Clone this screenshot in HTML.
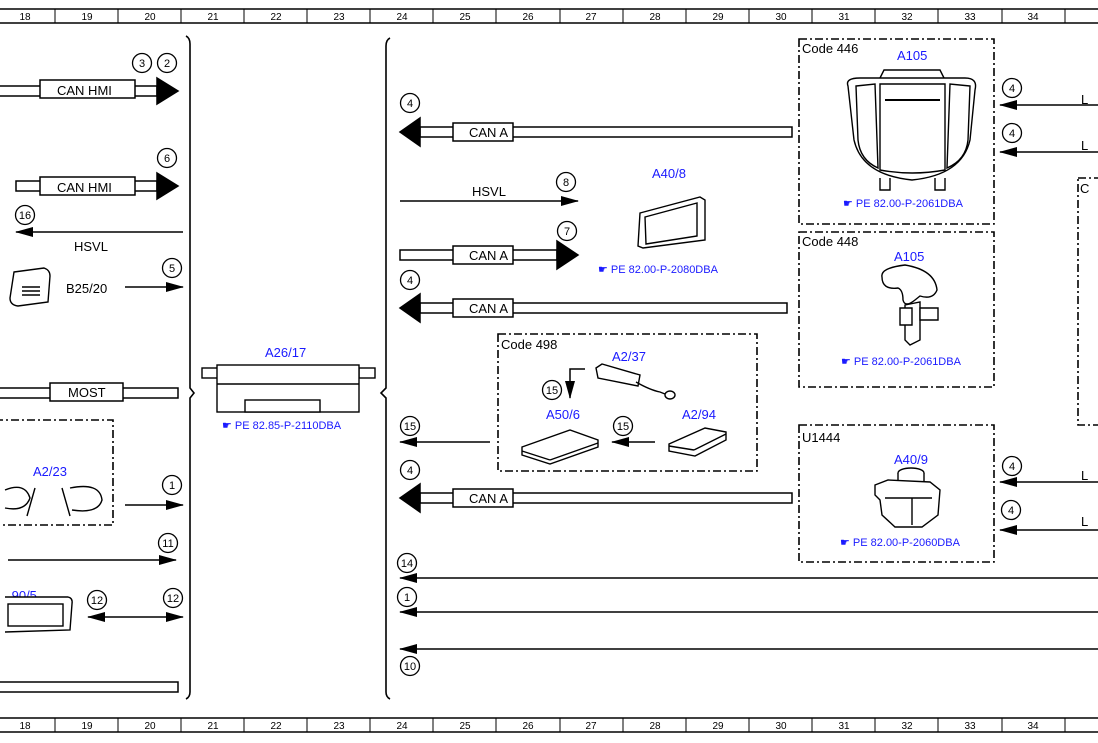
<!DOCTYPE html>
<html><head><meta charset="utf-8"><style>
html,body{margin:0;padding:0;background:#fff;}
svg{display:block;font-family:"Liberation Sans",Arial,sans-serif;}
.b{fill:#1a1aff;font-size:13px;}
.r{fill:#1a1aff;font-size:11px;}
.t{fill:#000;font-size:13px;}
.n{font-size:10px;text-anchor:middle;fill:#000;}
.c{font-size:11px;text-anchor:middle;fill:#000;}
.d{fill:none;stroke:#000;stroke-width:1.6;stroke-dasharray:8,3,2,3;}
</style></head><body>
<svg width="1098" height="743" viewBox="0 0 1098 743">
<defs>
<marker id="ah2" markerWidth="18" markerHeight="10" refX="17" refY="5" orient="auto" markerUnits="userSpaceOnUse"><path d="M0,0 L18,5 L0,10z" fill="#000"/></marker>
<marker id="ahs" markerWidth="18" markerHeight="10" refX="1" refY="5" orient="auto" markerUnits="userSpaceOnUse"><path d="M18,0 L0,5 L18,10z" fill="#000"/></marker>
</defs>
<!-- rulers -->
<g stroke="#000" fill="none">
<line x1="0" y1="9" x2="1098" y2="9" stroke-width="1.5"/><line x1="0" y1="23" x2="1098" y2="23" stroke-width="1.5"/>
<line x1="0" y1="718" x2="1098" y2="718" stroke-width="1.5"/><line x1="0" y1="732" x2="1098" y2="732" stroke-width="1.5"/>
</g>
<g stroke="#000" stroke-width="1">
<line x1="55" y1="9" x2="55" y2="23"/><line x1="118" y1="9" x2="118" y2="23"/><line x1="181" y1="9" x2="181" y2="23"/><line x1="244" y1="9" x2="244" y2="23"/><line x1="307" y1="9" x2="307" y2="23"/><line x1="370" y1="9" x2="370" y2="23"/><line x1="433" y1="9" x2="433" y2="23"/><line x1="496" y1="9" x2="496" y2="23"/><line x1="560" y1="9" x2="560" y2="23"/><line x1="623" y1="9" x2="623" y2="23"/><line x1="686" y1="9" x2="686" y2="23"/><line x1="749" y1="9" x2="749" y2="23"/><line x1="812" y1="9" x2="812" y2="23"/><line x1="875" y1="9" x2="875" y2="23"/><line x1="938" y1="9" x2="938" y2="23"/><line x1="1002" y1="9" x2="1002" y2="23"/><line x1="1065" y1="9" x2="1065" y2="23"/>
<line x1="55" y1="718" x2="55" y2="732"/><line x1="118" y1="718" x2="118" y2="732"/><line x1="181" y1="718" x2="181" y2="732"/><line x1="244" y1="718" x2="244" y2="732"/><line x1="307" y1="718" x2="307" y2="732"/><line x1="370" y1="718" x2="370" y2="732"/><line x1="433" y1="718" x2="433" y2="732"/><line x1="496" y1="718" x2="496" y2="732"/><line x1="560" y1="718" x2="560" y2="732"/><line x1="623" y1="718" x2="623" y2="732"/><line x1="686" y1="718" x2="686" y2="732"/><line x1="749" y1="718" x2="749" y2="732"/><line x1="812" y1="718" x2="812" y2="732"/><line x1="875" y1="718" x2="875" y2="732"/><line x1="938" y1="718" x2="938" y2="732"/><line x1="1002" y1="718" x2="1002" y2="732"/><line x1="1065" y1="718" x2="1065" y2="732"/>
</g>
<g class="n">
<text x="25" y="20">18</text><text x="87" y="20">19</text><text x="150" y="20">20</text><text x="213" y="20">21</text><text x="276" y="20">22</text><text x="339" y="20">23</text><text x="402" y="20">24</text><text x="465" y="20">25</text><text x="528" y="20">26</text><text x="591" y="20">27</text><text x="655" y="20">28</text><text x="718" y="20">29</text><text x="781" y="20">30</text><text x="844" y="20">31</text><text x="907" y="20">32</text><text x="970" y="20">33</text><text x="1033" y="20">34</text>
<text x="25" y="729">18</text><text x="87" y="729">19</text><text x="150" y="729">20</text><text x="213" y="729">21</text><text x="276" y="729">22</text><text x="339" y="729">23</text><text x="402" y="729">24</text><text x="465" y="729">25</text><text x="528" y="729">26</text><text x="591" y="729">27</text><text x="655" y="729">28</text><text x="718" y="729">29</text><text x="781" y="729">30</text><text x="844" y="729">31</text><text x="907" y="729">32</text><text x="970" y="729">33</text><text x="1033" y="729">34</text>
</g>
<!-- brackets -->
<g fill="none" stroke="#000" stroke-width="1.6">
<path d="M186,36 Q190,38 190,44 L190,388 L194,393 L190,398 L190,692 Q190,697 186,699"/>
<path d="M390,38 Q386,40 386,46 L386,388 L381,393 L386,398 L386,692 Q386,697 390,699"/>
</g>
<g stroke="#000" stroke-width="1.5" fill="#fff">
<rect x="-5" y="86" width="162" height="10"/><path d="M157,78 L178,91 L157,104z" fill="#000"/>
<rect x="40" y="80" width="95" height="18"/>
<rect x="16" y="181" width="141" height="10"/><path d="M157,173 L178,186 L157,199z" fill="#000"/>
<rect x="40" y="177" width="95" height="18"/>
<rect x="-5" y="388" width="183" height="10"/><rect x="50" y="383" width="73" height="18"/>
<rect x="-5" y="682" width="183" height="10"/>
<rect x="420" y="127" width="372" height="10"/><path d="M420,118 L400,132 L420,146z" fill="#000"/><rect x="453" y="123" width="60" height="18"/>
<rect x="400" y="250" width="157" height="10"/><path d="M557,241 L578,255 L557,269z" fill="#000"/><rect x="453" y="246" width="60" height="18"/>
<rect x="420" y="303" width="367" height="10"/><path d="M420,294 L400,308 L420,322z" fill="#000"/><rect x="453" y="299" width="60" height="18"/>
<rect x="420" y="493" width="372" height="10"/><path d="M420,484 L400,498 L420,512z" fill="#000"/><rect x="453" y="489" width="60" height="18"/>
</g>
<g class="t">
<text x="57" y="95">CAN HMI</text><text x="57" y="192">CAN HMI</text><text x="68" y="397">MOST</text>
<text x="469" y="137">CAN A</text><text x="469" y="260">CAN A</text><text x="469" y="313">CAN A</text><text x="469" y="503">CAN A</text>
<text x="74" y="251">HSVL</text><text x="472" y="196">HSVL</text><text x="66" y="293">B25/20</text>
<text x="802" y="53">Code 446</text><text x="802" y="246">Code 448</text><text x="501" y="349">Code 498</text><text x="802" y="442">U1444</text>
<text x="1081" y="104">L</text><text x="1081" y="150">L</text><text x="1081" y="480">L</text><text x="1081" y="526">L</text><text x="1080" y="193">C</text>
</g>
<g stroke="#000" stroke-width="1.5" fill="none">
<line x1="183" y1="232" x2="16" y2="232" marker-end="url(#ah2)"/>
<line x1="125" y1="287" x2="183" y2="287" marker-end="url(#ah2)"/>
<line x1="125" y1="505" x2="183" y2="505" marker-end="url(#ah2)"/>
<line x1="8" y1="560" x2="176" y2="560" marker-end="url(#ah2)"/>
<line x1="88" y1="617" x2="183" y2="617" marker-end="url(#ah2)" marker-start="url(#ahs)"/>
<line x1="400" y1="201" x2="578" y2="201" marker-end="url(#ah2)"/>
<line x1="490" y1="442" x2="400" y2="442" marker-end="url(#ah2)"/>
<line x1="655" y1="442" x2="612" y2="442" marker-end="url(#ah2)"/>
<path d="M585,369 L570,369 L570,398" marker-end="url(#ah2)"/>
<line x1="1098" y1="578" x2="400" y2="578" marker-end="url(#ah2)"/>
<line x1="1098" y1="612" x2="400" y2="612" marker-end="url(#ah2)"/>
<line x1="1098" y1="649" x2="400" y2="649" marker-end="url(#ah2)"/>
<line x1="1098" y1="105" x2="1000" y2="105" marker-end="url(#ah2)"/>
<line x1="1098" y1="152" x2="1000" y2="152" marker-end="url(#ah2)"/>
<line x1="1098" y1="482" x2="1000" y2="482" marker-end="url(#ah2)"/>
<line x1="1098" y1="530" x2="1000" y2="530" marker-end="url(#ah2)"/>
</g>
<rect class="d" x="-5" y="420" width="118" height="105"/>
<rect class="d" x="799" y="39" width="195" height="185"/>
<rect class="d" x="799" y="232" width="195" height="155"/>
<rect class="d" x="799" y="425" width="195" height="137"/>
<rect class="d" x="498" y="334" width="259" height="137"/>
<rect class="d" x="1078" y="178" width="40" height="247"/>
<g fill="#fff" stroke="#000" stroke-width="1.3">
<circle cx="142" cy="63" r="9.5"/><circle cx="167" cy="63" r="9.5"/><circle cx="167" cy="158" r="9.5"/><circle cx="25" cy="215" r="9.5"/><circle cx="172" cy="268" r="9.5"/><circle cx="172" cy="485" r="9.5"/><circle cx="168" cy="543" r="9.5"/><circle cx="97" cy="600" r="9.5"/><circle cx="173" cy="598" r="9.5"/>
<circle cx="410" cy="103" r="9.5"/><circle cx="566" cy="182" r="9.5"/><circle cx="567" cy="231" r="9.5"/><circle cx="410" cy="280" r="9.5"/><circle cx="410" cy="426" r="9.5"/><circle cx="623" cy="426" r="9.5"/><circle cx="552" cy="390" r="9.5"/><circle cx="410" cy="470" r="9.5"/><circle cx="407" cy="563" r="9.5"/><circle cx="407" cy="597" r="9.5"/><circle cx="410" cy="666" r="9.5"/>
<circle cx="1012" cy="88" r="9.5"/><circle cx="1012" cy="133" r="9.5"/><circle cx="1012" cy="466" r="9.5"/><circle cx="1011" cy="510" r="9.5"/>
</g>
<g class="c">
<text x="142" y="67">3</text><text x="167" y="67">2</text><text x="167" y="162">6</text><text x="25" y="219">16</text><text x="172" y="272">5</text><text x="172" y="489">1</text><text x="168" y="547">11</text><text x="97" y="604">12</text><text x="173" y="602">12</text>
<text x="410" y="107">4</text><text x="566" y="186">8</text><text x="567" y="235">7</text><text x="410" y="284">4</text><text x="410" y="430">15</text><text x="623" y="430">15</text><text x="552" y="394">15</text><text x="410" y="474">4</text><text x="407" y="567">14</text><text x="407" y="601">1</text><text x="410" y="670">10</text>
<text x="1012" y="92">4</text><text x="1012" y="137">4</text><text x="1012" y="470">4</text><text x="1011" y="514">4</text>
</g>
<text class="b" x="265" y="357">A26/17</text>
<text class="b" x="33" y="476">A2/23</text>
<text class="b" x="8" y="600">.90/5</text>
<text class="b" x="652" y="178">A40/8</text>
<text class="b" x="612" y="361">A2/37</text>
<text class="b" x="546" y="419">A50/6</text>
<text class="b" x="682" y="419">A2/94</text>
<text class="b" x="897" y="60">A105</text>
<text class="b" x="894" y="261">A105</text>
<text class="b" x="894" y="464">A40/9</text>
<g class="r">
<text x="222" y="429">☛ PE 82.85-P-2110DBA</text>
<text x="598" y="273">☛ PE 82.00-P-2080DBA</text>
<text x="843" y="207">☛ PE 82.00-P-2061DBA</text>
<text x="841" y="365">☛ PE 82.00-P-2061DBA</text>
<text x="840" y="546">☛ PE 82.00-P-2060DBA</text>
</g>
<g fill="#fff" stroke="#000" stroke-width="1.4">
<rect x="202" y="368" width="16" height="10"/><rect x="359" y="368" width="16" height="10"/>
<rect x="217" y="365" width="142" height="47"/><line x1="217" y1="384" x2="359" y2="384"/>
<rect x="245" y="400" width="75" height="12"/>
<path d="M14,272 L44,268 Q50,270 50,276 L48,302 L18,306 Q10,305 10,298z"/>
<line x1="22" y1="287" x2="40" y2="287"/><line x1="22" y1="291" x2="40" y2="291"/><line x1="22" y1="295" x2="40" y2="295"/>
<path d="M5,490 Q25,482 30,498 Q25,512 5,508"/><path d="M35,488 L27,516"/>
<path d="M62,488 L70,516 M70,488 Q100,482 102,500 Q98,514 72,510"/>
<path d="M5,597 L68,597 Q73,598 72,604 L70,630 L5,632"/><rect x="8" y="604" width="55" height="22"/>
<path d="M640,213 L700,197 L705,200 L705,240 L643,248 L638,246z"/><path d="M645,217 L697,203 L697,236 L646,244z"/>
<path d="M596,368 L602,364 L640,375 L638,386 L598,378z"/><path d="M636,382 Q650,390 660,392 L665,394"/><ellipse cx="670" cy="395" rx="5" ry="4"/>
<path d="M522,447 L570,430 L598,440 L598,447 L550,464 L522,455z"/><line x1="522" y1="451" x2="550" y2="460"/><line x1="550" y1="460" x2="598" y2="443"/>
<path d="M669,444 L705,428 L726,432 L726,440 L695,456 L669,451z"/><line x1="669" y1="446" x2="694" y2="450"/><line x1="694" y1="450" x2="726" y2="434"/>
<path d="M880,78 L884,70 L940,70 L944,78"/>
<path d="M848,86 Q845,78 860,78 L965,78 Q978,78 975,90 L970,140 Q962,175 912,180 Q862,175 854,140z"/>
<path d="M856,86 L875,84 L878,168 Q860,160 858,140z M970,86 L950,84 L947,168 Q966,160 968,140z"/>
<path d="M880,84 L945,84 L945,170 Q912,176 880,170z"/>
<line x1="885" y1="100" x2="940" y2="100" stroke-width="2"/>
<path d="M880,178 L880,190 L890,190 L890,178 M935,178 L935,190 L945,190 L945,178"/>
<path d="M882,277 Q880,268 905,265 Q935,270 937,290 Q933,300 920,296 L915,300 Q905,308 903,300 Q903,290 898,288 Q882,290 882,277z"/>
<path d="M905,305 L920,302 L920,340 L910,345 L905,340z"/><path d="M900,308 L912,308 L912,325 L900,325z"/><path d="M920,308 L938,308 L938,320 L920,320z"/>
<ellipse cx="911" cy="473" rx="13" ry="5"/><path d="M898,473 L898,483 Q911,490 924,483 L924,473"/>
<path d="M875,485 L888,480 L930,482 L940,490 L938,515 L922,527 L895,527 L882,515 L880,500 L875,495z"/>
<path d="M885,498 L932,498 M912,498 L912,525"/>
</g>
</svg>
</body></html>
